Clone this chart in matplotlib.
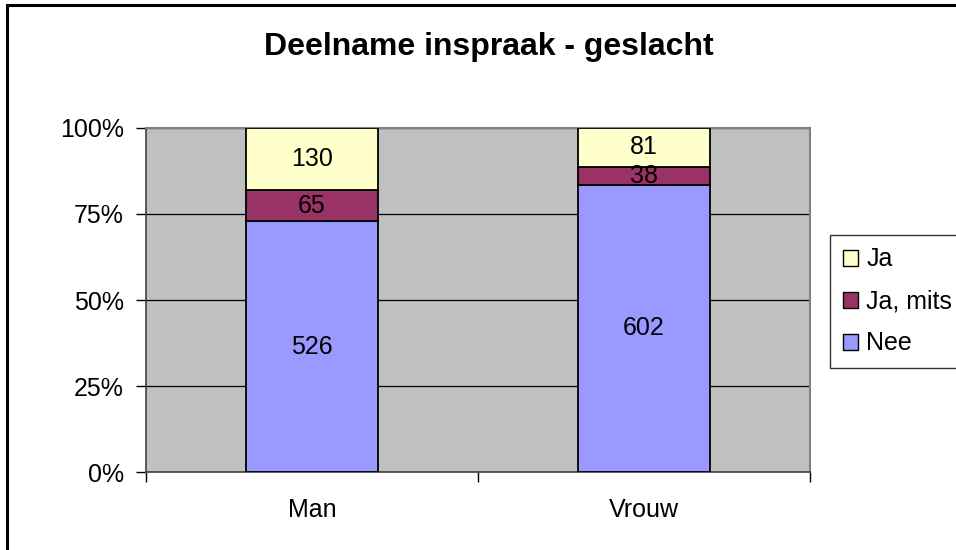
import matplotlib.pyplot as plt
import matplotlib.patches as mpatches
import numpy as np

plt.rcParams['font.family'] = ['Liberation Sans', 'DejaVu Sans']

categories = ['Man', 'Vrouw']
series = ['Nee', 'Ja, mits', 'Ja']
nee = [526, 602]
ja_mits = [65, 38]
ja = [130, 81]
colors = {'Nee': '#9999FF', 'Ja, mits': '#993366', 'Ja': '#FFFFCC'}

counts = np.array([nee, ja_mits, ja], dtype=float)
totals = counts.sum(axis=0)
shares = counts / totals * 100

fig = plt.figure(figsize=(9.56, 5.5), dpi=100)
ax = fig.add_axes([146 / 956, 78 / 550, 664 / 956, 344 / 550])
ax.set_facecolor('#C0C0C0')

x = np.arange(len(categories)) + 0.5
bottom = np.zeros(len(categories))
handles = []
for name, row, pct in zip(series, counts, shares):
    ax.bar(x, pct, width=0.40, bottom=bottom, color=colors[name],
           edgecolor='black', linewidth=1.3, zorder=3)
    for xi, b, p, n in zip(x, bottom, pct, row):
        ax.text(xi, b + p / 2, '%d' % n, ha='center', va='center',
                fontsize=18, zorder=4)
    bottom += pct
    handles.append(mpatches.Patch(facecolor=colors[name], edgecolor='black',
                                  label=name))

ax.set_xlim(0, 2)
ax.set_ylim(0, 100)
ax.set_yticks([0, 25, 50, 75, 100])
ax.set_yticklabels(['0%', '25%', '50%', '75%', '100%'], fontsize=18)
ax.yaxis.grid(True, color='black', linewidth=0.9, zorder=1)
ax.set_axisbelow(True)
ax.set_xticks([0, 1, 2])
ax.set_xticklabels([])
ax.set_xticks(x, minor=True)
ax.set_xticklabels(categories, minor=True, fontsize=18)
ax.tick_params(axis='x', which='minor', length=0, pad=19)
ax.tick_params(axis='x', which='major', length=7, direction='out', width=1)
ax.tick_params(axis='y', length=7, direction='out', width=1, pad=9)

for side in ['top', 'right']:
    ax.spines[side].set_color('#808080')
    ax.spines[side].set_linewidth(1.5)
for side in ['left', 'bottom']:
    ax.spines[side].set_color('#404040')
    ax.spines[side].set_linewidth(1.2)

fig.text(489 / 956, 1 - 47 / 550, 'Deelname inspraak - geslacht',
         ha='center', va='center', fontsize=23, fontweight='bold')

leg = fig.legend(handles=handles[::-1], loc='upper left',
                 bbox_to_anchor=(830 / 956, 1 - 235 / 550, 200 / 956, 0.0),
                 mode='expand', frameon=True, fancybox=False, fontsize=18,
                 handlelength=0.6, handleheight=0.6, handletextpad=0.35,
                 labelspacing=0.72, borderpad=0.5, borderaxespad=0)
leg.get_frame().set_edgecolor('black')
leg.get_frame().set_linewidth(1.0)

# outer chart border, cut by the image edge at right and bottom
fig.patches.append(mpatches.Rectangle((7 / 956, -0.1), 1.1, 1 - 5 / 550 + 0.1,
                                      transform=fig.transFigure, fill=False,
                                      edgecolor='black', linewidth=2.2))

fig.savefig('out.png', dpi=100)
